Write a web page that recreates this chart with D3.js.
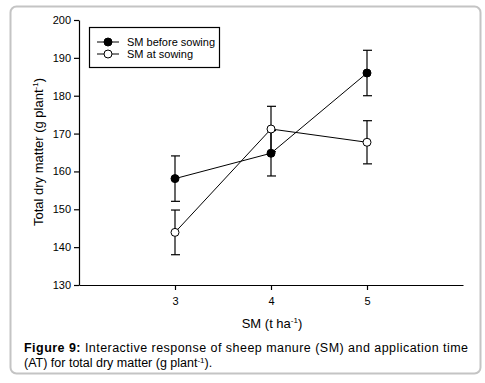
<!DOCTYPE html>
<meta charset="UTF-8">
<style>
body { margin: 0; background: #fff; }
text { font-family: "Liberation Sans", Arial, sans-serif; fill: #000; }
.axis path, .axis line { stroke: #000; stroke-width: 1.2px; }
.axis text { font-size: 11px; }
</style>
<body>
<script src="https://d3js.org/d3.v7.min.js"></script>
<script>
// data
var smRates = [3, 4, 5];
var beforeSowing = [158.1, 164.8, 186.0];
var beforeErr = [6.0, 6.0, 6.0];
var atSowing = [143.9, 171.2, 167.7];
var atErr = [5.9, 6.0, 5.7];
var yTicks = [130, 140, 150, 160, 170, 180, 190, 200];
var seriesNames = ["SM before sowing", "SM at sowing"];

var W = 485, H = 383;
var svg = d3.select("body").append("svg")
    .attr("width", W)
    .attr("height", H);

// outer frame
svg.append("rect")
    .attr("x", 10.5).attr("y", 6.5)
    .attr("width", 470).attr("height", 367)
    .attr("rx", 6)
    .attr("fill", "none")
    .attr("stroke", "#c4c4c4")
    .attr("stroke-width", 2);

var x = d3.scaleLinear().domain([2, 6]).range([79, 463]);
var y = d3.scaleLinear().domain([130, 200]).range([285, 20]);

// axes
svg.append("g")
    .attr("class", "axis")
    .attr("transform", "translate(0,285)")
    .call(d3.axisBottom(x).tickValues(smRates).tickSize(5).tickSizeOuter(0).tickPadding(7).tickFormat(d3.format("d")));

svg.append("g")
    .attr("class", "axis")
    .attr("transform", "translate(79,0)")
    .call(d3.axisLeft(y).tickValues(yTicks).tickSize(5).tickSizeOuter(0).tickPadding(3));

// data series
var series = [
  {name: seriesNames[0], vals: beforeSowing, err: beforeErr, fill: "#000"},
  {name: seriesNames[1], vals: atSowing, err: atErr, fill: "#fff"}
];

var line = d3.line()
    .x(function(d, i) { return x(smRates[i]); })
    .y(function(d) { return y(d); });

series.forEach(function(s) {
  var g = svg.append("g");
  s.vals.forEach(function(v, i) {
    var cx = x(smRates[i]);
    g.append("line")
      .attr("x1", cx).attr("x2", cx)
      .attr("y1", y(v - s.err[i])).attr("y2", y(v + s.err[i]))
      .attr("stroke", "#000").attr("stroke-width", 1.2);
    [v - s.err[i], v + s.err[i]].forEach(function(e) {
      g.append("line")
        .attr("x1", cx - 4).attr("x2", cx + 5)
        .attr("y1", y(e)).attr("y2", y(e))
        .attr("stroke", "#000").attr("stroke-width", 1.2);
    });
  });
  g.append("path")
    .attr("d", line(s.vals))
    .attr("fill", "none")
    .attr("stroke", "#000")
    .attr("stroke-width", 1);
});

series.forEach(function(s) {
  svg.append("g").selectAll("circle")
    .data(s.vals)
    .enter().append("circle")
      .attr("cx", function(d, i) { return x(smRates[i]); })
      .attr("cy", function(d) { return y(d); })
      .attr("r", 4)
      .attr("fill", s.fill)
      .attr("stroke", "#000")
      .attr("stroke-width", 1);
});

// legend
var leg = svg.append("g");
leg.append("rect")
    .attr("x", 89.5).attr("y", 27.5)
    .attr("width", 130).attr("height", 40)
    .attr("fill", "#fff")
    .attr("stroke", "#000")
    .attr("stroke-width", 1.2);
series.forEach(function(s, i) {
  var ly = 42 + i * 12;
  leg.append("line")
    .attr("x1", 97).attr("x2", 119)
    .attr("y1", ly).attr("y2", ly)
    .attr("stroke", "#000");
  leg.append("circle")
    .attr("cx", 108).attr("cy", ly).attr("r", 4)
    .attr("fill", s.fill).attr("stroke", "#000");
  leg.append("text")
    .attr("x", 127).attr("y", ly + 4)
    .style("font-size", "11px")
    .text(s.name);
});

// axis titles
var yl = svg.append("text")
    .attr("transform", "translate(43,152) rotate(-90)")
    .attr("text-anchor", "middle")
    .style("font-size", "13px");
yl.append("tspan").text("Total dry matter (g plant");
yl.append("tspan").attr("dy", -5).style("font-size", "8px").text("-1");
yl.append("tspan").attr("dy", 5).text(")");

var xl = svg.append("text")
    .attr("x", 272).attr("y", 328)
    .attr("text-anchor", "middle")
    .style("font-size", "13px");
xl.append("tspan").text("SM (t ha");
xl.append("tspan").attr("dy", -5).style("font-size", "8px").text("-1");
xl.append("tspan").attr("dy", 5).text(")");

// caption
var c1 = svg.append("text")
    .attr("x", 24).attr("y", 352)
    .attr("textLength", 444)
    .attr("lengthAdjust", "spacing")
    .style("font-size", "12.5px");
c1.append("tspan").style("font-weight", "bold").text("Figure 9:");
c1.append("tspan").text(" Interactive response of sheep manure (SM) and application time");

var c2 = svg.append("text")
    .attr("x", 24).attr("y", 367)
    .style("font-size", "12.5px");
c2.append("tspan").text("(AT) for total dry matter (g plant");
c2.append("tspan").attr("dy", -4).style("font-size", "8px").text("-1");
c2.append("tspan").attr("dy", 4).text(").");
</script>
</body>
